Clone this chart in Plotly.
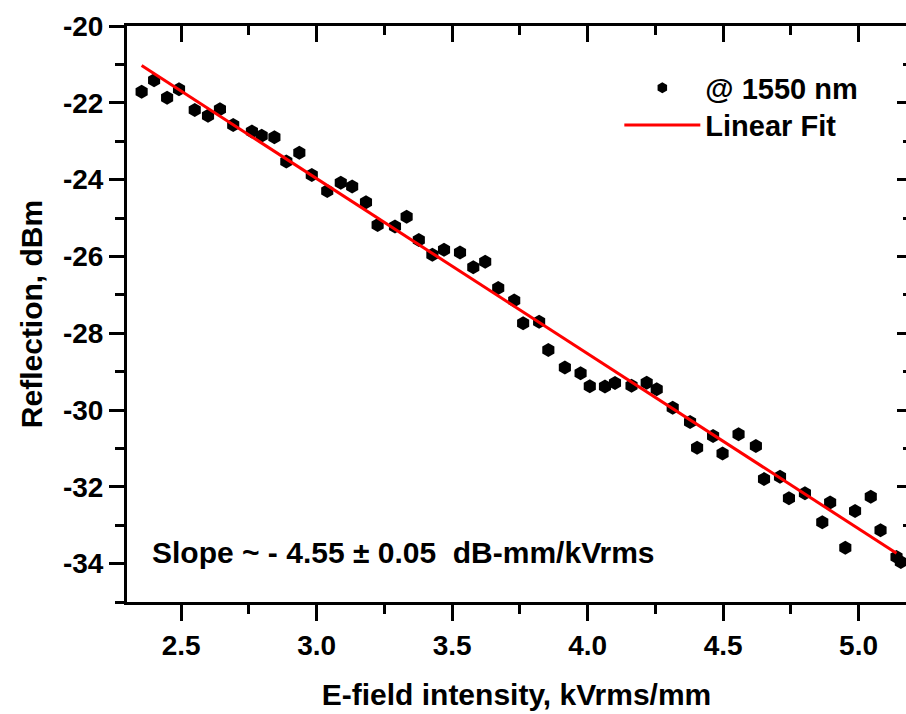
import plotly.graph_objects as go

# Measured data (@ 1550 nm)
field_kv = [2.354, 2.400, 2.448, 2.492, 2.550, 2.599, 2.643, 2.692, 2.761, 2.797,
            2.844, 2.888, 2.936, 2.982, 3.039, 3.089, 3.131, 3.182, 3.225, 3.289,
            3.332, 3.377, 3.427, 3.470, 3.529, 3.578, 3.622, 3.670, 3.729, 3.762,
            3.821, 3.855, 3.916, 3.974, 4.008, 4.064, 4.101, 4.162, 4.218, 4.255,
            4.314, 4.378, 4.404, 4.463, 4.498, 4.557, 4.621, 4.651, 4.710, 4.743,
            4.802, 4.866, 4.895, 4.951, 4.987, 5.045, 5.081, 5.140, 5.156]
reflection_dbm = [-21.71, -21.41, -21.87, -21.65, -22.19, -22.34, -22.17, -22.58, -22.75, -22.86,
                  -22.90, -23.53, -23.30, -23.88, -24.30, -24.08, -24.18, -24.59, -25.18, -25.22,
                  -24.97, -25.57, -25.96, -25.83, -25.90, -26.28, -26.14, -26.82, -27.15, -27.74,
                  -27.70, -28.44, -28.89, -29.04, -29.38, -29.39, -29.30, -29.37, -29.29, -29.46,
                  -29.94, -30.31, -30.98, -30.68, -31.13, -30.63, -30.94, -31.80, -31.74, -32.30,
                  -32.17, -32.92, -32.41, -33.59, -32.63, -32.26, -33.13, -33.83, -33.96]

# Linear fit end points
fit_x = [2.354, 5.140]
fit_y = [-21.03, -33.73]

x_range = [2.30, 5.175]
y_range = [-35, -20]
x_ticks = [2.5, 3.0, 3.5, 4.0, 4.5, 5.0]
x_ticklabels = ["2.5", "3.0", "3.5", "4.0", "4.5", "5.0"]
y_ticks = [-34, -32, -30, -28, -26, -24, -22, -20]
y_ticklabels = ["-34", "-32", "-30", "-28", "-26", "-24", "-22", "-20"]

FONT = "Liberation Sans, Arial, sans-serif"

fig = go.Figure()
fig.add_trace(go.Scatter(x=field_kv, y=reflection_dbm, mode="markers",
                         marker=dict(symbol="hexagon", size=14, color="black"),
                         showlegend=False))
fig.add_trace(go.Scatter(x=[None], y=[None], mode="markers", name="@ 1550 nm",
                         marker=dict(symbol="hexagon", size=11, color="black"),
                         legend="legend"))
fig.add_trace(go.Scatter(x=fit_x, y=fit_y, mode="lines", name="Linear Fit",
                         line=dict(color="#ff0000", width=3), legend="legend2"))
# helper trace for top/right mirror axes
fig.add_trace(go.Scatter(x=[None], y=[None], xaxis="x2", yaxis="y2",
                         showlegend=False, hoverinfo="skip"))

axis_font = dict(family=FONT, size=28, color="black", weight="bold")
title_font = dict(family=FONT, size=30, color="black", weight="bold")
legend_font = dict(family=FONT, size=29, color="black", weight="bold")

fig.update_layout(
    width=906, height=714,
    margin=dict(l=127, r=0, t=26, b=112),
    paper_bgcolor="white", plot_bgcolor="white",
    xaxis=dict(range=x_range, tickvals=x_ticks, ticktext=x_ticklabels,
               ticks="outside", ticklen=16, tickwidth=3, tickcolor="black",
               minor=dict(dtick=0.25, tick0=2.25, ticks="outside", ticklen=9, tickwidth=3, tickcolor="black"),
               showline=True, linewidth=3, linecolor="black", showgrid=False, zeroline=False,
               tickfont=axis_font,
               title=dict(text="E-field intensity, kVrms/mm", font=title_font, standoff=25)),
    yaxis=dict(range=y_range, tickvals=y_ticks, ticktext=y_ticklabels,
               ticks="outside", ticklen=15, tickwidth=3, tickcolor="black",
               minor=dict(dtick=1, tick0=-35, ticks="outside", ticklen=9, tickwidth=3, tickcolor="black"),
               showline=True, linewidth=3, linecolor="black", showgrid=False, zeroline=False,
               tickfont=axis_font,
               title=dict(text="Reflection, dBm", font=title_font, standoff=12)),
    xaxis2=dict(overlaying="x", side="top", range=x_range, tickvals=x_ticks,
                showticklabels=False, ticks="inside", ticklen=16, tickwidth=3, tickcolor="black",
                minor=dict(dtick=0.25, tick0=2.25, ticks="inside", ticklen=9, tickwidth=3, tickcolor="black"),
                showline=True, linewidth=3, linecolor="black", showgrid=False, zeroline=False),
    yaxis2=dict(overlaying="y", side="right", range=y_range, tickvals=y_ticks,
                showticklabels=False, ticks="inside", ticklen=9, tickwidth=3, tickcolor="black",
                minor=dict(dtick=1, tick0=-35, ticks="inside", ticklen=3, tickwidth=3, tickcolor="black"),
                showline=False, showgrid=False, zeroline=False),
    legend=dict(x=0.632, y=0.8924, xanchor="left", yanchor="middle",
                bgcolor="rgba(0,0,0,0)", font=legend_font, itemwidth=76),
    legend2=dict(x=0.632, y=0.828, xanchor="left", yanchor="middle",
                 bgcolor="rgba(0,0,0,0)", font=legend_font, itemwidth=76),
    annotations=[dict(x=2.385, y=-33.72, xref="x", yref="y", xanchor="left", yanchor="middle",
                      text="Slope ~ - 4.55 ± 0.05 \u00a0dB-mm/kVrms", showarrow=False,
                      font=dict(family=FONT, size=30, color="black", weight="bold"))],
)

fig.write_html("out.html")
